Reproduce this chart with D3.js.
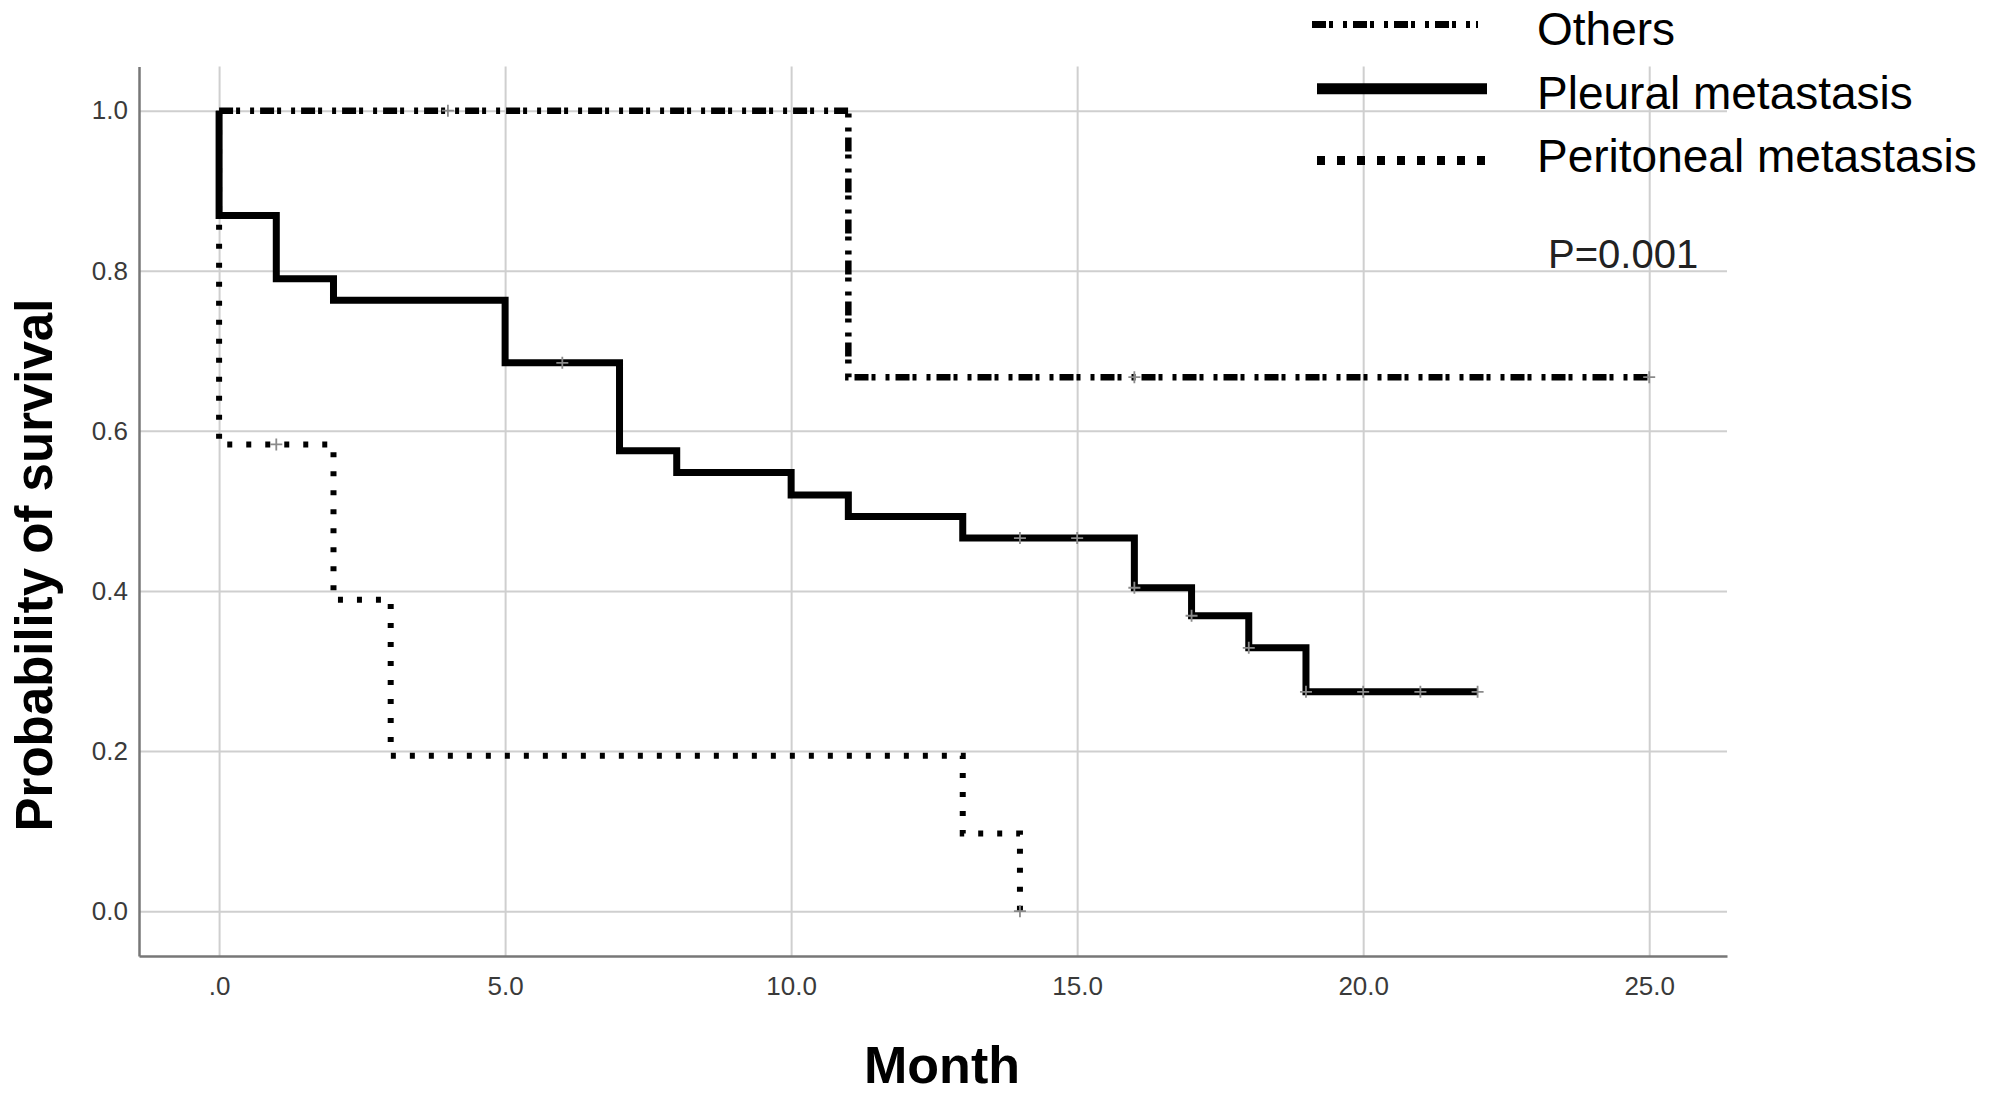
<!DOCTYPE html>
<html>
<head>
  <meta charset="UTF-8">
  <title>Survival by metastasis site</title>
  <script src="https://d3js.org/d3.v7.min.js"></script>
  <style>
    body { margin: 0; background: white; }
    text { font-family: "Liberation Sans", Arial, sans-serif; }
  </style>
</head>
<body>
<svg id="chart"></svg>

<script>
    // Data

    const pleuralTime = [0, 0, 1, 2, 5, 7, 8, 10, 11, 13, 16, 17, 18, 19, 22];
    const pleuralSurv = [1, 0.869, 0.790, 0.763, 0.685, 0.575, 0.548, 0.520, 0.493, 0.466, 0.404, 0.369, 0.329, 0.274, 0.274];
    const pleuralCensor = [6, 14, 15, 16, 17, 18, 19, 20, 21, 22];

    const othersTime = [0, 11, 25];
    const othersSurv = [1, 0.667, 0.667];
    const othersCensor = [4, 16, 25];

    const peritonealTime = [0, 0, 2, 3, 13, 14];
    const peritonealSurv = [1, 0.583, 0.389, 0.194, 0.097, 0];
    const peritonealCensor = [1, 14];

    const xTicks = [0, 5, 10, 15, 20, 25];
    const yTicks = [0, 0.2, 0.4, 0.6, 0.8, 1.0];
    const legendLabels = ["Others", "Pleural metastasis", "Peritoneal metastasis"];
    const pValue = "P=0.001";

    // Setup

    const width = 2000;
    const height = 1093;
    const frame = { left: 139, right: 1727, top: 66.6, bottom: 956 };

    let svg = d3.select("#chart")
                .attr("width", width)
                .attr("height", height);

    const xScale = d3.scaleLinear().domain([-1.4, 26.36]).range([frame.left, frame.right]);
    const yScale = d3.scaleLinear().domain([-0.056, 1.055]).range([frame.bottom, frame.top]);

    // Grid lines

    let xGrid = d3.axisBottom(xScale).tickValues(xTicks).tickFormat("")
                  .tickSize(-(frame.bottom - frame.top));
    svg.append("g")
        .attr("transform", `translate(0, ${frame.bottom})`)
        .call(xGrid)
        .call(g => g.select(".domain").remove())
        .call(g => g.selectAll("line").attr("stroke", "#cfcfcf").attr("stroke-width", 2));

    let yGrid = d3.axisLeft(yScale).tickValues(yTicks).tickFormat("")
                  .tickSize(-(frame.right - frame.left));
    svg.append("g")
        .attr("transform", `translate(${frame.left}, 0)`)
        .call(yGrid)
        .call(g => g.select(".domain").remove())
        .call(g => g.selectAll("line").attr("stroke", "#cfcfcf").attr("stroke-width", 2));

    // Axes

    let bottomAxis = d3.axisBottom(xScale).tickValues(xTicks)
                       .tickFormat(d => d === 0 ? ".0" : d.toFixed(1))
                       .tickSize(0).tickPadding(21);
    svg.append("g")
        .attr("transform", `translate(0, ${frame.bottom})`)
        .call(bottomAxis)
        .call(g => g.select(".domain").attr("stroke", "#777").attr("stroke-width", 2.5))
        .call(g => g.selectAll("text").attr("font-size", 26).attr("fill", "#3a3a3a")
                    .style("font-family", "'Liberation Sans', Arial, sans-serif"));

    let leftAxis = d3.axisLeft(yScale).tickValues(yTicks)
                     .tickFormat(d3.format(".1f"))
                     .tickSize(0).tickPadding(11);
    svg.append("g")
        .attr("transform", `translate(${frame.left}, 0)`)
        .call(leftAxis)
        .call(g => g.select(".domain").attr("stroke", "#777").attr("stroke-width", 2.5))
        .call(g => g.selectAll("text").attr("font-size", 26).attr("fill", "#3a3a3a")
                    .style("font-family", "'Liberation Sans', Arial, sans-serif"));

    // Axis titles

    svg.append("text")
        .attr("x", 942).attr("y", 1083)
        .attr("text-anchor", "middle")
        .attr("font-size", 52).attr("font-weight", "bold")
        .text("Month");

    svg.append("text")
        .attr("transform", "translate(52, 565) rotate(-90)")
        .attr("text-anchor", "middle")
        .attr("font-size", 51).attr("font-weight", "bold")
        .text("Probability of survival");

    // Curves

    const series = [
        { time: othersTime, surv: othersSurv, censor: othersCensor, width: 6.5, dash: "14,3,4,10,4,6" },
        { time: pleuralTime, surv: pleuralSurv, censor: pleuralCensor, width: 7, dash: null },
        { time: peritonealTime, surv: peritonealSurv, censor: peritonealCensor, width: 6, dash: "5,14" }
    ];

    const stepLine = d3.line()
                       .x(d => xScale(d[0]))
                       .y(d => yScale(d[1]))
                       .curve(d3.curveStepAfter);

    series.forEach(s => {
        let pts = s.time.map((t, i) => [t, s.surv[i]]);
        svg.append("path")
            .attr("d", stepLine(pts))
            .attr("fill", "none")
            .attr("stroke", "black")
            .attr("stroke-width", s.width)
            .attr("stroke-dasharray", s.dash);

        // censor marks
        s.censor.forEach(c => {
            let idx = d3.bisectRight(s.time, c) - 1;
            let cx = xScale(c), cy = yScale(s.surv[idx]);
            svg.append("path")
                .attr("d", `M${cx - 6},${cy}H${cx + 6}M${cx},${cy - 6}V${cy + 6}`)
                .attr("stroke", "#8a8a8a")
                .attr("stroke-width", 1.8);
        });
    });

    // Legend

    const legendStyle = [
        { width: 7, dash: "14,3,4,10,4,6", x1: 1312, x2: 1478 },
        { width: 11, dash: null, x1: 1317, x2: 1487 },
        { width: 9, dash: "8,12", x1: 1317, x2: 1487 }
    ];
    const legendLineY = [24.6, 88.7, 160.6];
    const legendTextY = [45, 109, 172];

    legendLabels.forEach((label, i) => {
        svg.append("line")
            .attr("x1", legendStyle[i].x1).attr("x2", legendStyle[i].x2)
            .attr("y1", legendLineY[i]).attr("y2", legendLineY[i])
            .attr("stroke", "black")
            .attr("stroke-width", legendStyle[i].width)
            .attr("stroke-dasharray", legendStyle[i].dash);
        svg.append("text")
            .attr("x", 1537).attr("y", legendTextY[i])
            .attr("font-size", 46)
            .text(label);
    });

    svg.append("text")
        .attr("x", 1548).attr("y", 268)
        .attr("font-size", 40)
        .attr("fill", "#222")
        .text(pValue);
</script>
</body>
</html>
